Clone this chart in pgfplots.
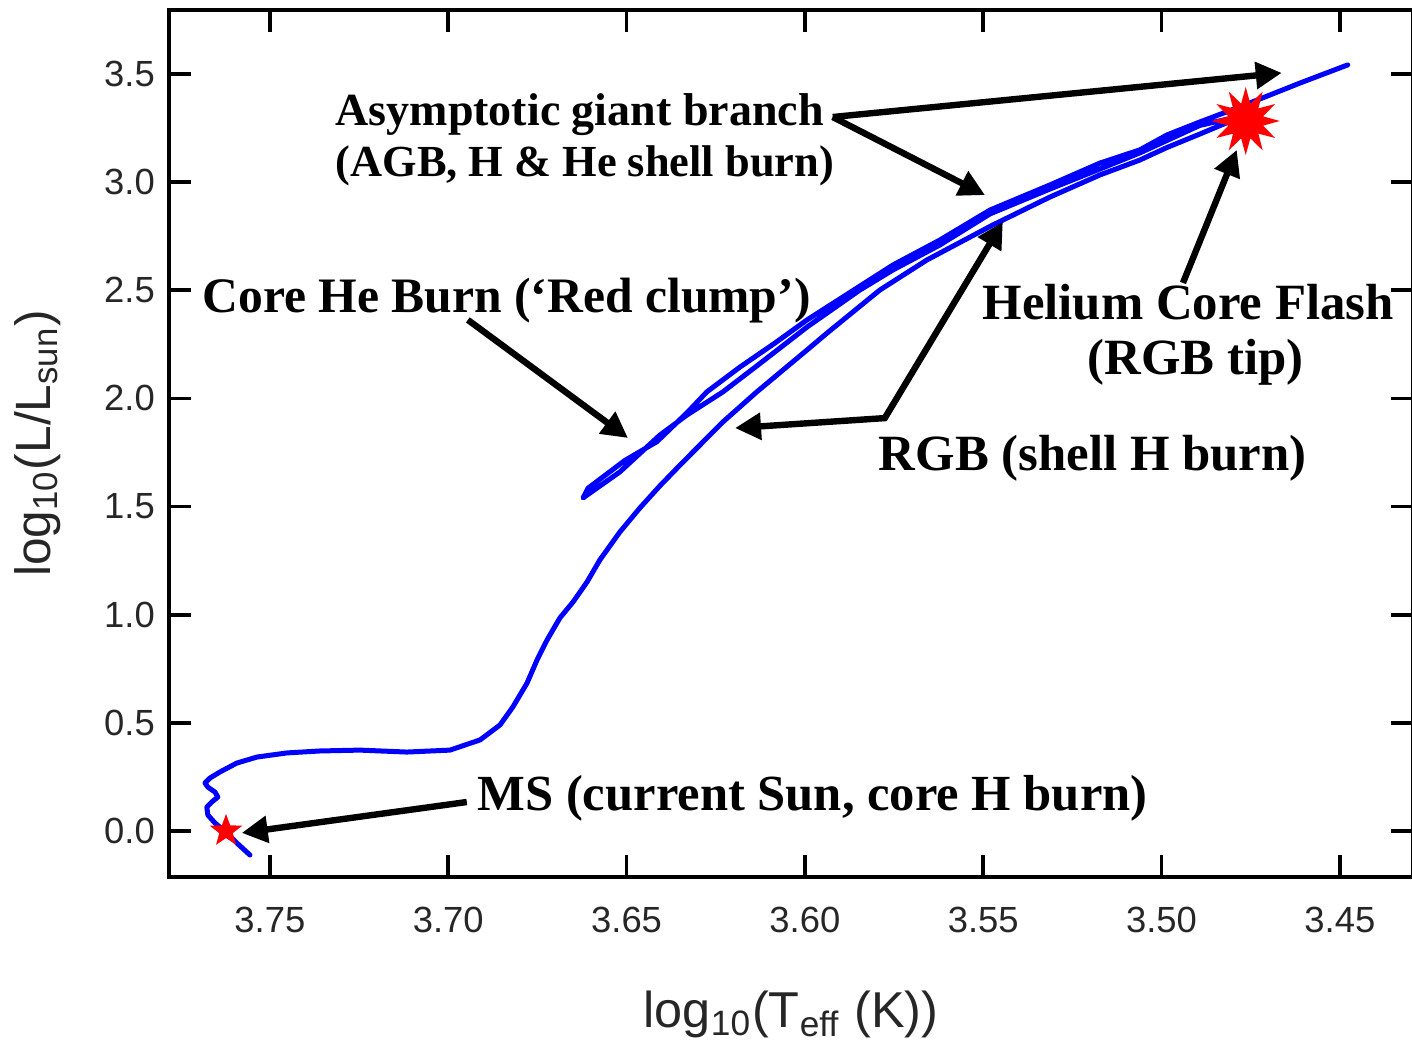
\documentclass[border=0pt]{standalone}
\usepackage{fontspec}
\setmainfont{Liberation Sans}
\newfontfamily\annotfont{Liberation Serif}
\usepackage{pgfplots}
\pgfplotsset{compat=1.18}
\usetikzlibrary{arrows.meta,shapes.geometric}

\pgfdeclareplotmark{redstar}{\node[star,star points=5,star point ratio=2.4,minimum size=8.5pt,inner sep=0pt,fill=red,draw=none]{};}
\pgfdeclareplotmark{burst}{\node[star,star points=12,star point ratio=1.9,minimum size=17pt,inner sep=0pt,fill=red,draw=none]{};}

\pgfplotstableread{
x y
3.7556 -0.111
3.7593 -0.055
3.7621 -0.009
3.7654 0.037
3.7674 0.074
3.7677 0.111
3.7663 0.134
3.7646 0.157
3.7654 0.180
3.7674 0.203
3.7682 0.222
3.7668 0.245
3.7640 0.273
3.7593 0.314
3.7536 0.342
3.7452 0.361
3.7360 0.370
3.7248 0.374
3.7116 0.365
3.6995 0.374
3.6911 0.421
3.6855 0.490
3.6819 0.573
3.6779 0.684
3.6751 0.791
3.6723 0.883
3.6687 0.985
3.6650 1.059
3.6611 1.151
3.6575 1.253
3.6519 1.382
3.6463 1.493
3.6407 1.595
3.6350 1.692
3.6294 1.785
3.6230 1.891
3.6135 2.030
3.5994 2.224
3.5938 2.302
3.5790 2.501
3.5658 2.640
3.5473 2.802
3.5313 2.931
3.5173 3.033
3.5061 3.102
3.4985 3.160
3.4893 3.222
3.4766 3.310
3.4893 3.262
3.5061 3.135
3.5313 2.968
3.5481 2.853
3.5622 2.709
3.5753 2.594
3.5846 2.501
3.5994 2.330
3.6135 2.150
3.6230 2.030
3.6331 1.923
3.6407 1.830
3.6519 1.660
3.6622 1.540
3.6608 1.585
3.6505 1.713
3.6415 1.800
3.6331 1.933
3.6275 2.030
3.6182 2.145
3.6084 2.256
3.5994 2.363
3.5902 2.460
3.5753 2.617
3.5622 2.732
3.5481 2.871
3.5313 2.987
3.5173 3.088
3.5061 3.149
3.4985 3.218
3.4893 3.278
3.4766 3.357
3.4612 3.458
3.4478 3.542
}\track

\begin{document}
\begin{tikzpicture}
\begin{axis}[
  at={(0,0)}, anchor=south west,
  scale only axis, width=311pt, height=216.75pt,
  x dir=reverse,
  xmin=3.4295, xmax=3.7783, ymin=-0.2127, ymax=3.7958,
  xtick={3.45,3.50,3.55,3.60,3.65,3.70,3.75},
  ytick={0,0.5,1,1.5,2,2.5,3,3.5},
  minor tick num=0,
  tick align=inside,
  major tick length=5.5pt,
  every tick/.style={line width=0.9pt, black},
  axis line style={line width=0.9pt, black},
  /pgf/number format/assume math mode=true,
  ticklabel style={font=\fontsize{9.1}{10}\selectfont, text=black!85},
  xticklabel style={/pgf/number format/fixed, /pgf/number format/fixed zerofill, /pgf/number format/precision=2, yshift=-4pt},
  yticklabel style={/pgf/number format/fixed, /pgf/number format/fixed zerofill, /pgf/number format/precision=1},
  scaled ticks=false,
  xlabel={log\textsubscript{10}(T\textsubscript{eff} (K))},
  ylabel={log\textsubscript{10}(L/L\textsubscript{sun})},
  every axis x label/.style={at={(axis description cs:0.5,-0.159)}, anchor=center, font=\fontsize{12.6}{14}\selectfont, text=black!85},
  every axis y label/.style={at={(axis description cs:-0.1058,0.5)}, rotate=90, anchor=center, font=\fontsize{12.4}{14}\selectfont, text=black!85},
  clip=false,
]
\addplot[color=blue, line width=1.25pt, line join=round, line cap=round, mark=none] table[x=x,y=y] {\track};

% annotations
\draw[line width=1.6pt, -{Triangle[length=6.5pt,width=6.5pt]}] (axis cs:3.5922,3.301) -- (axis cs:3.4663,3.505);
\draw[line width=1.6pt, -{Triangle[length=6.5pt,width=6.5pt]}] (axis cs:3.5922,3.301) -- (axis cs:3.5495,2.940);
\draw[line width=1.6pt, -{Triangle[length=6.5pt,width=6.5pt]}] (axis cs:3.6945,2.363) -- (axis cs:3.6496,1.817);
\draw[line width=1.6pt, line join=miter, {Triangle[length=6.5pt,width=6.5pt]}-{Triangle[length=6.5pt,width=6.5pt]}] (axis cs:3.6196,1.863) -- (axis cs:3.5776,1.909) -- (axis cs:3.5445,2.816);
\draw[line width=1.6pt, -{Triangle[length=6.5pt,width=6.5pt]}] (axis cs:3.4940,2.534) -- (axis cs:3.4789,3.149);
\draw[line width=1.6pt, -{Triangle[length=6.5pt,width=6.5pt]}] (axis cs:3.6948,0.134) -- (axis cs:3.7579,-0.009);

\addplot[only marks, mark=redstar] coordinates {(3.7623,0.0)};
\addplot[only marks, mark=burst] coordinates {(3.4764,3.2826)};

\node[anchor=base west, inner sep=0pt, font=\annotfont\bfseries\fontsize{11.5}{13}\selectfont] at (axis cs:3.7318,3.2595) {Asymptotic giant branch};
\node[anchor=base west, inner sep=0pt, font=\annotfont\bfseries\fontsize{11.1}{13}\selectfont] at (axis cs:3.7318,3.0283) {(AGB, H \& He shell burn)};
\node[anchor=base west, inner sep=0pt, font=\annotfont\bfseries\fontsize{12.4}{14}\selectfont] at (axis cs:3.7691,2.3995) {Core He Burn (‘Red clump’)};
\node[anchor=base west, inner sep=0pt, font=\annotfont\bfseries\fontsize{12.7}{14}\selectfont] at (axis cs:3.5504,2.3626) {Helium Core Flash};
\node[anchor=base west, inner sep=0pt, font=\annotfont\bfseries\fontsize{12.7}{14}\selectfont] at (axis cs:3.5209,2.1083) {(RGB tip)};
\node[anchor=base west, inner sep=0pt, font=\annotfont\bfseries\fontsize{12.7}{14}\selectfont] at (axis cs:3.5795,1.6690) {RGB (shell H burn)};
\node[anchor=base west, inner sep=0pt, font=\annotfont\bfseries\fontsize{12.65}{14}\selectfont] at (axis cs:3.6920,0.0971) {MS (current Sun, core H burn)};
\end{axis}
\pgfresetboundingbox
\useasboundingbox (-42.25pt,-41pt) rectangle (310.75pt,219.25pt);
\end{tikzpicture}
\end{document}
